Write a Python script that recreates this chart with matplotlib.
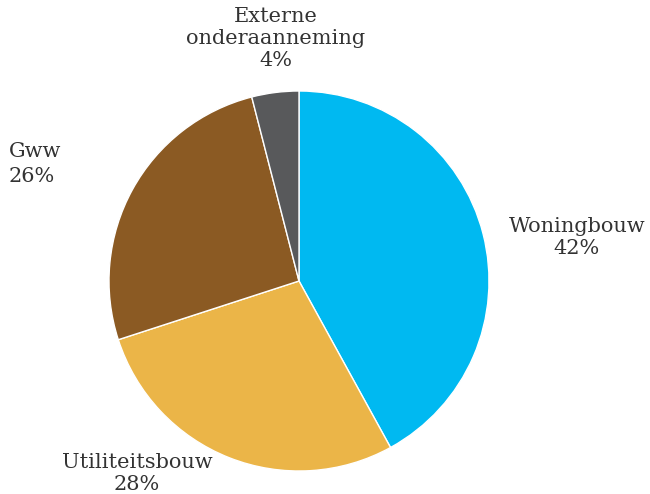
import matplotlib
matplotlib.use("Agg")
import matplotlib.pyplot as plt

# Data
labels = ["Woningbouw", "Utiliteitsbouw", "Gww", "Externe\nonderaanneming"]
shares = [42, 28, 26, 4]
colors = ["#00B9F1", "#EBB548", "#8B5A23", "#58595B"]

W, H = 650, 494
fig = plt.figure(figsize=(W / 100, H / 100), dpi=100)

# pie centre (299, 281) px, radius 190 px
cx, cy, r = 299, 281, 190
ax = fig.add_axes([(cx - r) / W, (H - cy - r) / H, 2 * r / W, 2 * r / H])
ax.pie(shares, colors=colors, startangle=90, counterclock=False,
       wedgeprops={"edgecolor": "white", "linewidth": 1})
ax.set_xlim(-1, 1)
ax.set_ylim(-1, 1)
ax.set_aspect("equal")
ax.axis("off")

# label positions in pixels (x, y of text centre, alignment, line spacing)
label_pos = [(577, 238, "center", 1.2), (137, 473, "center", 1.2),
             (9, 164, "left", 1.45), (276, 38, "center", 1.2)]
text_kw = dict(fontsize=15, color="#333333", family="DejaVu Serif", va="center")
for lab, val, (x, y, ha, ls) in zip(labels, shares, label_pos):
    fig.text(x / W, 1 - y / H, f"{lab}\n{val}%", ha=ha, multialignment=ha,
             linespacing=ls, **text_kw)

fig.savefig("out.png", dpi=100)
